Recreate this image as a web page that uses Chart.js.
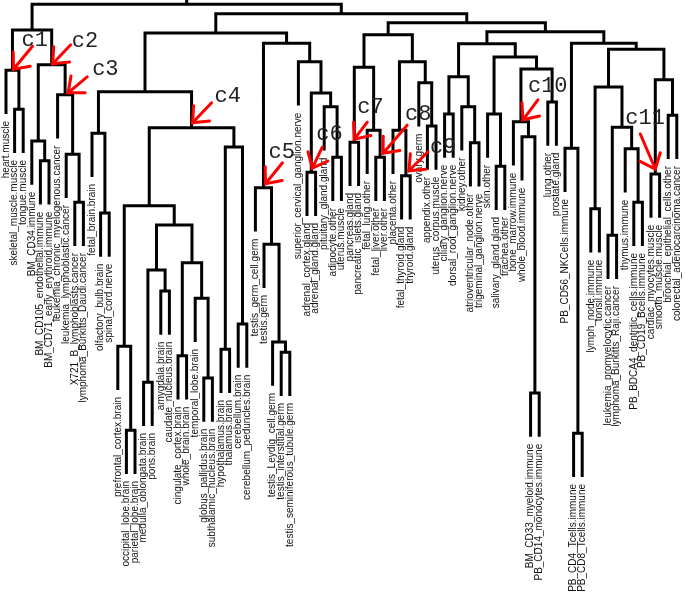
<!DOCTYPE html>
<html><head><meta charset="utf-8">
<script src="https://cdn.jsdelivr.net/npm/chart.js@4"></script>
<style>html,body{margin:0;padding:0;background:#fff}canvas{display:block}</style>
</head><body>
<canvas id="c" width="685" height="604"></canvas>
<script>
// ---------- DATA ----------
const leafLabels = [
 "heart.muscle","skeletal_muscle.muscle","tongue.muscle","BM_CD34.immune",
 "BM_CD105_endothelial.immune","BM_CD71_early_erythroid.immune",
 "leukemia_chronic_myelogenous.cancer","leukemia_lymphoblastic.cancer",
 "X721_B_lymphoblasts.cancer","lymphoma_Burkitts_Daudi.cancer",
 "fetal_brain.brain","olfactory_bulb.brain","spinal_cord.nerve",
 "prefrontal_cortex.brain","occipital_lobe.brain","parietal_lobe.brain",
 "medulla_oblongata.brain","pons.brain","amygdala.brain","caudate_nucleus.brain",
 "cingulate_cortex.brain","whole_brain.brain","temporal_lobe.brain",
 "globus_pallidus.brain","subthalamic_nucleus.brain","hypothalamus.brain",
 "thalamus.brain","cerebellum.brain","cerebellum_peduncles.brain",
 "testis_germ_cell.germ","testis.germ","testis_Leydig_cell.germ",
 "testis_interstitial.germ","testis_seminiferous_tubule.germ",
 "superior_cervical_ganglion.nerve","adrenal_cortex.gland","adrenal_gland.gland",
 "pituitary_gland.gland","adipocyte.other","uterus.muscle","pancreas.gland",
 "pancreatic_islets.gland","fetal_lung.other","fetal_liver.other","liver.other",
 "placenta.other","fetal_thyroid.gland","thyroid.gland","ovary.germ",
 "appendix.other","uterus_corpus.muscle","ciliary_ganglion.nerve",
 "dorsal_root_ganglion.nerve","kidney.other","atrioventricular_node.other",
 "trigeminal_ganglion.nerve","skin.other","salivary_gland.gland","trachea.other",
 "bone_marrow.immune","whole_blood.immune","BM_CD33_myeloid.immune",
 "PB_CD14_monocytes.immune","lung.other","prostate.gland","PB_CD56_NKCells.immune",
 "PB_CD4_Tcells.immune","PB_CD8_Tcells.immune","lymph_node.immune","tonsil.immune",
 "leukemia_promyelocytic.cancer","lymphoma_Burkitts_Raji.cancer","thymus.immune",
 "PB_BDCA4_dentritic_cells.immune","PB_CD19_Bcells.immune","cardiac_myocytes.muscle",
 "smooth_muscle.muscle","bronchial_epithelial_cells.other","colorectal_adenocarcinoma.cancer"
];
// merges (R hclust convention: negative = leaf number, positive = earlier merge)
const mergeLeft  = [-2,-1,-5,-4,-9,-8,-7,4,2,-12,-11,-15,-14,-17,-19,14,-21,-24,-23,17,16,13,-26,-28,23,22,11,
  -33,-32,-31,-30,-36,-39,-38,32,-35,31,27,-41,-44,-43,39,-47,-46,-50,-49,44,42,-52,-55,-54,49,-58,-57,
  -62,-61,-60,-64,57,54,52,-67,-66,-69,-71,-74,-73,65,64,-76,-78,70,69,63,61,48,38,9];
const mergeRight = [-3,1,-6,3,-10,5,6,7,8,-13,10,-16,12,-18,-20,15,-22,-25,18,19,20,21,-27,-29,24,25,26,
  -34,28,29,30,-37,-40,33,34,35,36,37,-42,-45,40,41,-48,43,-51,45,46,47,-53,-56,50,51,-59,53,
  -63,55,56,-65,58,59,60,-68,62,-70,-72,-75,66,67,68,-77,-79,71,72,73,74,75,76,77];
const mergeHeight = [81.8,88.3,73.2,76.5,66.3,74.3,84.2,89.2,95.0,64.5,77.8,28.3,42.3,36.3,51.5,55.0,40.7,37.0,50.3,56.2,62.5,65.7,41.8,46.0,75.5,78.7,84.7,
  41.3,43.0,59.3,68.7,71.3,73.8,82.2,84.5,89.7,92.8,94.5,76.3,73.8,78.3,88.8,70.7,78.3,79.0,86.2,89.7,94.2,81.0,76.2,82.2,87.2,72.3,81.0,
  34.5,77.2,79.7,83.0,88.5,90.5,92.7,27.8,75.3,65.2,60.8,66.3,75.2,78.8,85.5,71.0,80.8,86.7,91.8,92.8,94.7,96.2,97.7,99.3];
const hang = 7.3;
const clusterNames  = ["c1","c2","c3","c4","c5","c6","c7","c8","c9","c10","c11"];
const clusterMerges = [2,8,7,26,31,32,39,40,43,57,70];

// ---------- STYLE ----------
const tipOff   = [[1,-1],[1,-1],[3,-2],[1,-5],[2,-4],[1,-4],[0,-3],[3,-4],[3,-5],[2,-2],[0,-5]];
const tailOff  = [[19,-23],[18,-19],[19,-16],[19,-20],[17,-21],[10,-21],[13,-17],[24,-28],[19,-19],[15,-20],[-15,-35]];
const labelOff = [[8,-23],[19,-17],[24,-18],[22,-21],[3,-26],[4,-28],[3,-26],[22,-33],[21,-18],[5,-28],[-30,-45]];

// ---------- BUILD TREE ----------
const mx = [null], mh = [null];
const leafParentH = new Array(leafLabels.length).fill(0);
const segs = [];
function childInfo(r, parentH){
  if (r < 0){ leafParentH[-r-1] = parentH; return {x: -r-1, h: parentH - hang}; }
  return {x: mx[r], h: mh[r]};
}
for (let k = 0; k < mergeHeight.length; k++){
  const h = mergeHeight[k];
  const a = childInfo(mergeLeft[k], h), b = childInfo(mergeRight[k], h);
  mx.push((a.x + b.x)/2); mh.push(h);
  segs.push({x:a.x,y:a.h},{x:a.x,y:h},{x:b.x,y:h},{x:b.x,y:b.h},{x:b.x,y:null});
}
const rootX = mx[mx.length-1], rootH = mh[mh.length-1];
segs.push({x:rootX,y:rootH},{x:rootX,y:100});

const xMin = -6/8.6, xMax = xMin + 685/8.6;

const overlay = {
  id: 'overlay',
  afterDatasetsDraw(chart){
    const ctx = chart.ctx, xs = chart.scales.x, ys = chart.scales.y;
    ctx.save();
    // leaf labels
    ctx.fillStyle = '#111';
    ctx.font = '10px "Liberation Sans", Arial, sans-serif';
    ctx.textAlign = 'right'; ctx.textBaseline = 'middle';
    leafLabels.forEach((lab, i) => {
      const px = xs.getPixelForValue(i);
      const py = ys.getPixelForValue(leafParentH[i] - hang) + 7;
      ctx.save(); ctx.translate(px, py); ctx.rotate(-Math.PI/2);
      ctx.fillText(lab, 0, 0); ctx.restore();
    });
    // cluster arrows
    clusterNames.forEach((name, j) => {
      const m = clusterMerges[j];
      const nx = xs.getPixelForValue(mx[m]), ny = ys.getPixelForValue(mh[m]);
      const tx = nx + tipOff[j][0], ty = ny + tipOff[j][1];
      const sx = tx + tailOff[j][0], sy = ty + tailOff[j][1];
      ctx.strokeStyle = '#ff0000'; ctx.lineWidth = 3; ctx.lineCap = 'round';
      ctx.beginPath(); ctx.moveTo(sx, sy); ctx.lineTo(tx, ty); ctx.stroke();
      const ang = Math.atan2(sy - ty, sx - tx), L = 17, spread = 0.7;
      ctx.beginPath();
      ctx.moveTo(tx + L*Math.cos(ang - spread), ty + L*Math.sin(ang - spread));
      ctx.lineTo(tx, ty);
      ctx.lineTo(tx + L*Math.cos(ang + spread), ty + L*Math.sin(ang + spread));
      ctx.stroke();
      ctx.fillStyle = '#222';
      ctx.font = '22px "Liberation Mono", "DejaVu Sans Mono", monospace';
      ctx.textAlign = 'left'; ctx.textBaseline = 'alphabetic';
      ctx.fillText(name, tx + labelOff[j][0], ty + labelOff[j][1]);
    });
    ctx.restore();
  }
};

new Chart(document.getElementById('c'), {
  type: 'scatter',
  data: { datasets: [{
    data: segs, showLine: true, borderColor: '#000', borderWidth: 3,
    pointRadius: 0, pointHoverRadius: 0, spanGaps: false, tension: 0,
    borderJoinStyle: 'miter', borderCapStyle: 'butt', clip: false
  }]},
  options: {
    responsive: false, animation: false, devicePixelRatio: 1,
    layout: { padding: { top: 0, right: 0, bottom: 4, left: 0 } },
    scales: {
      x: { type: 'linear', display: false, min: xMin, max: xMax },
      y: { type: 'linear', display: false, min: 0, max: 100 }
    },
    plugins: { legend: { display: false }, tooltip: { enabled: false } },
    events: []
  },
  plugins: [overlay]
});
</script>
</body></html>
